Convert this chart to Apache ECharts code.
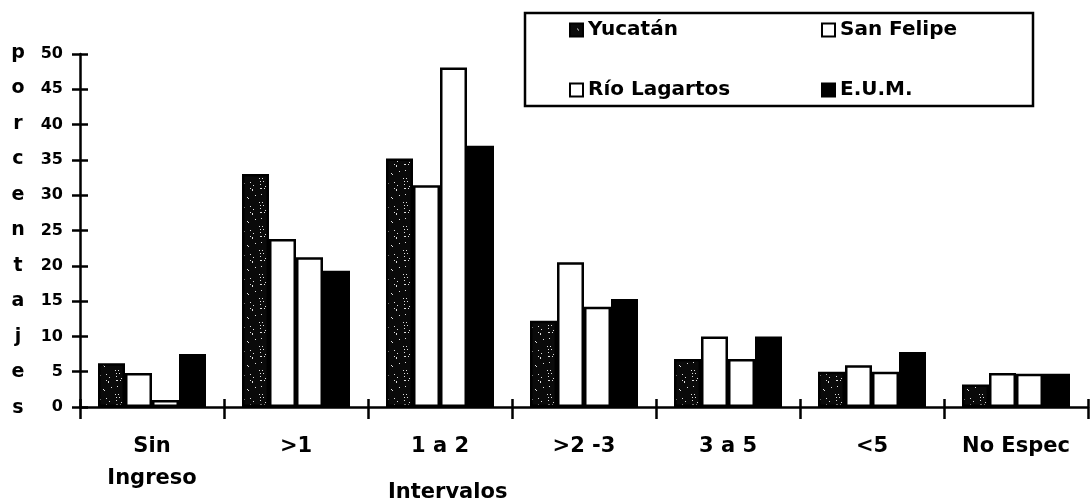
<!DOCTYPE html>
<html>
<head>
<meta charset="utf-8">
<script src="https://cdn.jsdelivr.net/npm/echarts@6/dist/echarts.min.js"></script>
<style>
  html, body { margin: 0; padding: 0; background: #fff; }
  #chart { width: 1092px; height: 503px; }
</style>
</head>
<body>
<div id="chart"></div>
<script>
const categories = ["Sin\nIngreso", ">1", "1 a 2", ">2 -3", "3 a 5", "<5", "No Espec"];
const yucatan = [6.2, 33.0, 35.2, 12.2, 6.8, 5.0, 3.2];
const sanFelipe = [4.8, 23.8, 31.4, 20.5, 10.0, 5.9, 4.8];
const rioLagartos = [1.0, 21.2, 48.1, 14.2, 6.8, 5.0, 4.7];
const eum = [7.5, 19.3, 37.0, 15.3, 10.0, 7.8, 4.7];

const FONT = "DejaVu Sans";

// speckled fill for Yucatán (black with sparse white dots)
function speckle() {
  const c = document.createElement("canvas");
  c.width = 24;
  c.height = 24;
  const ctx = c.getContext("2d");
  ctx.fillStyle = "#0a0a0a";
  ctx.fillRect(0, 0, 24, 24);
  ctx.fillStyle = "#e0e0e0";
  let s = 7;
  for (let i = 0; i < 20; i++) {
    s = (s * 73 + 41) % 577;
    const x = s % 24;
    s = (s * 73 + 41) % 577;
    const y = s % 24;
    ctx.fillRect(x, y, 1, 1);
  }
  return c;
}

const chart = echarts.init(document.getElementById("chart"), null, { renderer: "canvas" });

const barStyle = (fill) => ({
  color: fill,
  borderColor: "#000",
  borderWidth: 2.5,
});

const black = { color: "#000", width: 2.5 };

chart.setOption({
  backgroundColor: "#fff",
  animation: false,
  grid: { left: 80, right: 4, top: 54, bottom: 96 },
  legend: {
    left: 525,
    top: 13,
    padding: [7, 0, 6, 44],
    itemGap: 40,
    itemWidth: 13,
    itemHeight: 13,
    icon: "rect",
    borderColor: "#000",
    borderWidth: 2.5,
    textStyle: {
      fontFamily: FONT,
      fontWeight: "bold",
      fontSize: 20,
      color: "#000",
      width: 193,
      lineHeight: 20,
    },
    data: ["Yucatán", "San Felipe", "Río Lagartos", "E.U.M."],
  },
  xAxis: [
    {
      type: "category",
      data: categories,
      axisLine: { show: true, lineStyle: black },
      axisTick: { show: true, length: 12, lineStyle: black },
      splitLine: { show: false },
      axisLabel: {
        margin: 24,
        fontFamily: FONT,
        fontWeight: "bold",
        fontSize: 21,
        lineHeight: 32,
        color: "#000",
      },
    },
    {
      type: "category",
      data: categories,
      position: "bottom",
      axisLine: { show: false },
      axisTick: { show: true, inside: true, length: 8, lineStyle: black },
      axisLabel: { show: false },
      splitLine: { show: false },
    },
  ],
  yAxis: [
    {
      type: "value",
      min: 0,
      max: 50,
      interval: 5,
      axisLine: { show: true, lineStyle: black },
      axisTick: { show: true, length: 8, lineStyle: black },
      splitLine: { show: false },
      axisLabel: {
        margin: 17,
        fontFamily: FONT,
        fontWeight: "bold",
        fontSize: 16,
        color: "#000",
      },
      name: "porcentajes".split("").join("\n"),
      nameLocation: "middle",
      nameRotate: 0,
      nameGap: 62,
      nameTextStyle: {
        fontFamily: FONT,
        fontWeight: "bold",
        fontSize: 19,
        lineHeight: 35.5,
        color: "#000",
        align: "center",
      },
    },
    {
      type: "value",
      min: 0,
      max: 50,
      interval: 5,
      position: "left",
      axisLine: { show: false },
      axisTick: { show: true, inside: true, length: 8, lineStyle: black },
      axisLabel: { show: false },
      splitLine: { show: false },
    },
  ],
  graphic: [
    {
      type: "text",
      left: 388,
      top: 482,
      style: {
        text: "Intervalos",
        font: "bold 21px " + FONT,
        fill: "#000",
      },
    },
  ],
  series: [
    { name: "Yucatán", type: "bar", data: yucatan, barGap: "0%", barCategoryGap: "25%",
      itemStyle: barStyle({ image: speckle(), repeat: "repeat" }) },
    { name: "San Felipe", type: "bar", data: sanFelipe, itemStyle: barStyle("#fff") },
    { name: "Río Lagartos", type: "bar", data: rioLagartos, itemStyle: barStyle("#fff") },
    { name: "E.U.M.", type: "bar", data: eum, itemStyle: barStyle("#000") },
  ],
});
</script>
</body>
</html>
